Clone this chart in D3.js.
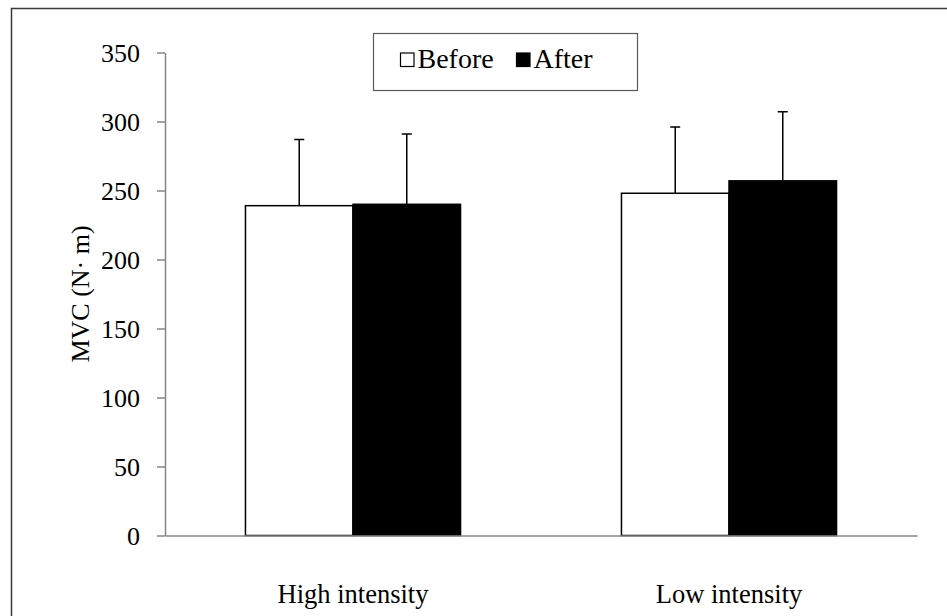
<!DOCTYPE html>
<html>
<head>
<meta charset="utf-8">
<script src="https://cdn.jsdelivr.net/npm/d3@7"></script>
<style>
  body { margin: 0; background: #fff; }
  svg text { font-family: "Liberation Serif", "Times New Roman", serif; fill: #000; }
</style>
</head>
<body>
<svg id="chart" width="947" height="616"></svg>
<script>
var groups = ["High intensity", "Low intensity"];
var series = ["Before", "After"];
var before = [239, 248];
var after = [240, 257];
var beforeSD = [48, 48];
var afterSD = [51, 50];
var yTicks = [0, 50, 100, 150, 200, 250, 300, 350];

var width = 947, height = 616;
var margin = {left: 165, right: 30, top: 52.5, bottom: 80.5};
var serif = "Liberation Serif";

var svg = d3.select("#chart");

// outer frame (runs off the right/bottom edge)
svg.append("rect")
    .attr("x", 11.5).attr("y", 8.5)
    .attr("width", 1000).attr("height", 700)
    .attr("fill", "none")
    .attr("stroke", "#3a3a3a")
    .attr("stroke-width", 1.5);

var x0 = d3.scaleBand()
    .domain(groups)
    .range([margin.left, width - margin.right])
    .paddingInner(0.428)
    .paddingOuter(0.214);

var x1 = d3.scaleBand()
    .domain(series)
    .range([0, x0.bandwidth()]);

var y = d3.scaleLinear()
    .domain([0, 350])
    .range([height - margin.bottom, margin.top]);

var rows = groups.map(function(g, i) {
    return [
        {group: g, key: "Before", value: before[i], sd: beforeSD[i]},
        {group: g, key: "After", value: after[i], sd: afterSD[i]}
    ];
});
var color = {Before: "#fff", After: "#000"};

// y axis
var yAxis = svg.append("g")
    .attr("transform", "translate(" + margin.left + ",0)")
    .call(d3.axisLeft(y).tickValues(yTicks).tickSize(8).tickSizeOuter(0).tickPadding(17));
yAxis.select(".domain").attr("stroke", "#868686").attr("stroke-width", 1.5);
yAxis.selectAll(".tick line").attr("stroke", "#868686").attr("stroke-width", 1.5);
yAxis.selectAll(".tick text")
    .attr("font-size", 26)
    .attr("font-family", serif)
    .attr("dy", "0.34em");

// bars
var g = svg.append("g").selectAll("g")
    .data(rows)
    .enter()
    .append("g")
    .attr("transform", function(d, i) { return "translate(" + x0(groups[i]) + ",0)"; });

g.selectAll("rect")
    .data(function(d) { return d; })
    .enter()
    .append("rect")
    .attr("x", function(d) { return x1(d.key); })
    .attr("y", function(d) { return y(d.value); })
    .attr("width", x1.bandwidth())
    .attr("height", function(d) { return y(0) - y(d.value); })
    .attr("fill", function(d) { return color[d.key]; })
    .attr("stroke", "#000")
    .attr("stroke-width", 1.5);

// error bars (upper only)
g.selectAll("path.err")
    .data(function(d) { return d; })
    .enter()
    .append("path")
    .attr("class", "err")
    .attr("fill", "none")
    .attr("stroke", "#000")
    .attr("stroke-width", 1.5)
    .attr("d", function(d) {
        var cx = x1(d.key) + x1.bandwidth() / 2;
        var top = y(d.value + d.sd);
        return "M" + cx + "," + y(d.value) + "V" + top + "M" + (cx - 5) + "," + top + "H" + (cx + 5);
    });

// x axis
var xAxis = svg.append("g")
    .attr("transform", "translate(0," + y(0) + ")")
    .call(d3.axisBottom(x0).tickSize(0).tickSizeOuter(0));
xAxis.select(".domain").attr("stroke", "#868686").attr("stroke-width", 1.5);
xAxis.selectAll(".tick text")
    .attr("font-size", 26.5)
    .attr("font-family", serif)
    .attr("y", 67)
    .attr("dy", 0);

// y label
svg.append("text")
    .attr("transform", "translate(89," + ((y(0) + y(350)) / 2) + ") rotate(-90)")
    .attr("text-anchor", "middle")
    .attr("font-size", 26)
    .text("MVC (N\u00b7 m)");

// legend
var legend = svg.append("g").attr("transform", "translate(373.5,33.5)");
legend.append("rect")
    .attr("width", 264).attr("height", 57)
    .attr("fill", "#fff")
    .attr("stroke", "#5a5a5a")
    .attr("stroke-width", 1.2);

var items = [{key: "Before", x: 27}, {key: "After", x: 143}];
items.forEach(function(it) {
    legend.append("rect")
        .attr("x", it.x).attr("y", 19.5)
        .attr("width", 13.5).attr("height", 13.5)
        .attr("fill", color[it.key])
        .attr("stroke", "#000")
        .attr("stroke-width", 1.2);
    legend.append("text")
        .attr("x", it.x + 17).attr("y", 34.5)
        .attr("font-size", 28)
        .text(it.key);
});
</script>
</body>
</html>
